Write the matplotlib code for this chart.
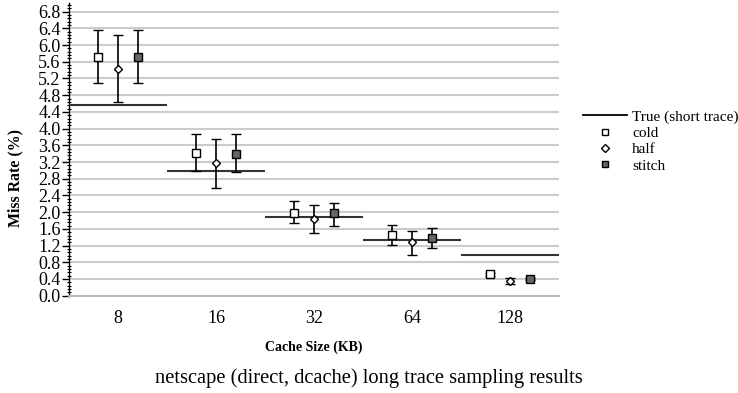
import numpy as np
import matplotlib
matplotlib.use("Agg")
import matplotlib.pyplot as plt
from matplotlib.lines import Line2D
from matplotlib.ticker import MultipleLocator

plt.rcParams['font.family'] = ['Liberation Serif', 'DejaVu Serif']

categories = ["8", "16", "32", "64", "128"]
true_short = [4.56, 2.99, 1.88, 1.34, 0.98]

cold = [5.72, 3.42, 1.99, 1.46, 0.51]
cold_lo = [5.10, 2.98, 1.74, 1.21, 0.48]
cold_hi = [6.36, 3.87, 2.26, 1.70, 0.54]

half = [5.42, 3.18, 1.83, 1.28, 0.35]
half_lo = [4.64, 2.59, 1.50, 0.98, 0.27]
half_hi = [6.23, 3.75, 2.16, 1.56, 0.43]

stitch = [5.72, 3.40, 1.97, 1.39, 0.40]
stitch_lo = [5.10, 2.96, 1.68, 1.14, 0.37]
stitch_hi = [6.35, 3.86, 2.22, 1.62, 0.43]

fig = plt.figure(figsize=(7.38, 3.93), dpi=100)
ax_bottom = 295.7
ax_top = 3.3
ax = fig.add_axes([69/738, 1-ax_bottom/393, 490/738, (ax_bottom-ax_top)/393])

x = np.arange(len(categories))
ax.hlines(true_short, x-0.5, x+0.5, colors='#333333', lw=1.5, zorder=3)

series = [
    (cold, cold_lo, cold_hi, -0.2, 's', 'white', 'cold'),
    (half, half_lo, half_hi, 0.0, 'D', 'white', 'half'),
    (stitch, stitch_lo, stitch_hi, 0.2, 's', '#666666', 'stitch'),
]
for vals, lo, hi, off, mk, fc, lab in series:
    vals = np.array(vals); lo = np.array(lo); hi = np.array(hi)
    yerr = np.vstack([vals - lo, hi - vals])
    ms = 5.5 if mk == 's' else 4.2
    ax.errorbar(x + off, vals, yerr=yerr, fmt=mk, mfc=fc, mec='black', mew=1.0,
                ms=ms, ecolor='black', elinewidth=1.2, capsize=3.3, capthick=1.2,
                zorder=4)

ax.set_xlim(-0.5, 4.5)
ax.set_ylim(0, 7.0)
ax.yaxis.set_minor_locator(MultipleLocator(0.08))
ticks = np.arange(0, 6.81, 0.4)
ax.set_yticks(ticks)
ax.set_yticklabels([f"{v:.1f}" for v in ticks])
ax.grid(axis='y', which='major', color='#cccccc', lw=1.5, zorder=0)
ax.set_axisbelow(True)
ax.set_xticks(x)
ax.set_xticklabels(categories)
ax.tick_params(axis='x', length=0, pad=10, labelsize=13)
ax.tick_params(axis='y', which='major', length=5, width=1, labelsize=13, pad=1)
ax.tick_params(axis='y', which='minor', length=3, width=0.8, direction='inout')
for s in ['top', 'right']:
    ax.spines[s].set_visible(False)
ax.spines['bottom'].set_color('#bbbbbb')
ax.spines['bottom'].set_linewidth(1.5)
ax.spines['left'].set_linewidth(1.0)

ax.set_ylabel("Miss Rate (%)", fontsize=11.4, fontweight='bold')
ax.yaxis.set_label_coords((23-69)/490, (ax_bottom-178)/(ax_bottom-ax_top))
ax.set_xlabel("Cache Size (KB)", fontsize=10, fontweight='bold', labelpad=10)

handles = [
    Line2D([], [], color='black', lw=1.3),
    Line2D([], [], ls='none', marker='s', mfc='white', mec='black', ms=5),
    Line2D([], [], ls='none', marker='D', mfc='white', mec='black', ms=4),
    Line2D([], [], ls='none', marker='s', mfc='#666666', mec='black', ms=5),
]
labels = ["True (short trace)", "cold", "half", "stitch"]
fig.legend(handles, labels, loc='upper left', bbox_to_anchor=(583/738, 1-110/393),
           frameon=False, fontsize=11, handlelength=2.85, handletextpad=0.35,
           labelspacing=0.17, borderpad=0, borderaxespad=0)

fig.text(0.5, 1-378/393, "netscape (direct, dcache) long trace sampling results",
         ha='center', va='center', fontsize=14.8)

fig.savefig("out.png", dpi=100)
